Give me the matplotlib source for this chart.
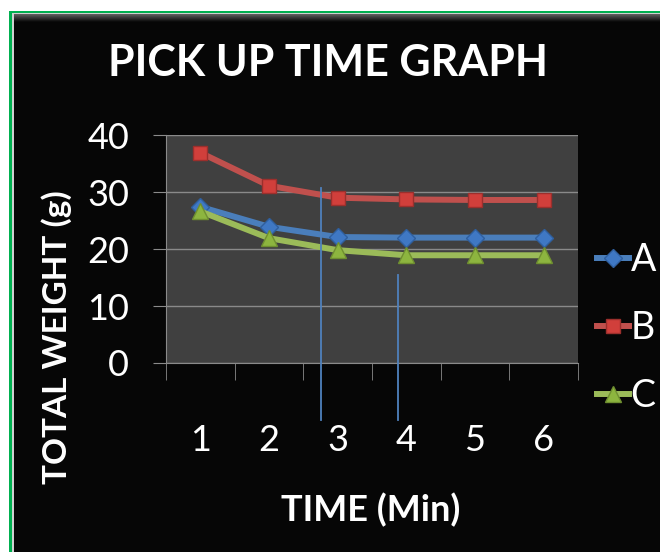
import numpy as np
import matplotlib
matplotlib.use('Agg')
import matplotlib.pyplot as plt
from matplotlib.patches import Rectangle
from matplotlib.lines import Line2D

# data
minutes = ['1', '2', '3', '4', '5', '6']
weight_a = [27.4, 23.9, 22.1, 22.0, 22.0, 22.0]
weight_b = [36.9, 31.1, 29.0, 28.7, 28.6, 28.6]
weight_c = [26.6, 21.9, 19.8, 18.9, 18.9, 18.9]
y_ticks = [0, 10, 20, 30, 40]

W, H = 660, 552
plt.rcParams['font.family'] = ['Lato', 'DejaVu Sans']

fig = plt.figure(figsize=(W / 100, H / 100), dpi=100, facecolor='white')

# green frame + black chart area
fig.patches.append(Rectangle((9 / W, -0.1), 1.2, 1.1 - 11 / H, transform=fig.transFigure,
                             facecolor='#00b050', edgecolor='none', zorder=-5))
fig.patches.append(Rectangle((12 / W, -0.1), 1.2, 1.1 - 13 / H, transform=fig.transFigure,
                             facecolor='#d0d0d0', edgecolor='none', zorder=-4))
fig.patches.append(Rectangle((14 / W, -0.1), 1.2, 1.1 - 14 / H, transform=fig.transFigure,
                             facecolor='#060606', edgecolor='none', zorder=-3))
# soft grey band at the top edge
band = fig.add_axes([14 / W, 1 - 22 / H, 1, 8 / H])
band.imshow(np.linspace(0.38, 0.03, 20).reshape(-1, 1), cmap='gray', vmin=0, vmax=1,
            aspect='auto', extent=[0, 1, 0, 1])
band.axis('off')

ax = fig.add_axes([166 / W, 1 - 363 / H, 412 / W, 228 / H])
ax.set_facecolor('#404040')

x = np.arange(len(minutes))
ax.plot(x, weight_a, color='#4a7ebb', lw=4.3, marker='D', ms=9.5,
        mfc='#3f78c4', mec='#2f5f9e', label='A', zorder=3)
ax.plot(x, weight_b, color='#c0504d', lw=4.3, marker='s', ms=10.5,
        mfc='#d13f3b', mec='#9c2f2c', label='B', zorder=3)
ax.plot(x, weight_c, color='#9bbb59', lw=4.3, marker='^', ms=12,
        mfc='#8db53f', mec='#6f8f30', label='C', zorder=4)

ax.set_xlim(-0.5, len(minutes) - 0.5)
ax.set_ylim(0, 40)
ax.set_yticks(y_ticks)
ax.set_xticks(x)
ax.set_xticklabels(minutes)
ax.set_xticks(np.arange(-0.5, len(minutes), 1), minor=True)
ax.grid(axis='y', color='#8a8a8a', lw=1)
ax.set_axisbelow(True)

for s in ['top', 'right']:
    ax.spines[s].set_visible(False)
for s in ['left', 'bottom']:
    ax.spines[s].set_color('#8a8a8a')

ax.tick_params(axis='x', which='major', length=0, pad=44, labelsize=26, labelcolor='white')
ax.tick_params(axis='x', which='minor', length=12, color='#8a8a8a')
ax.tick_params(axis='y', length=9.5, color='#8a8a8a', pad=17, labelsize=26, labelcolor='white')

ax.set_xlabel('TIME (Min)', color='white', fontsize=26, fontweight='bold', va='center')
ax.xaxis.set_label_coords((371 - 166) / 412, (363 - 510) / 228)
ax.set_ylabel('TOTAL WEIGHT (g)', color='white', fontsize=24, fontweight='bold', va='center')
ax.yaxis.set_label_coords((57 - 166) / 412, (363 - 337) / 228)

fig.text(328 / W, 1 - 63 / H, 'PICK UP TIME GRAPH', ha='center', va='center',
         color='white', fontsize=31, fontweight='bold')

leg = ax.legend(loc='center left', bbox_to_anchor=(597 / W, 1 - 328 / H),
                bbox_transform=fig.transFigure, frameon=False, fontsize=27,
                labelcolor='white', handlelength=0.85, handletextpad=0.05,
                labelspacing=0.85, borderpad=0, borderaxespad=0)

# two thin blue marker lines drawn on the figure
fig.add_artist(Line2D([321 / W, 321 / W], [1 - 188 / H, 1 - 420 / H], color='#4f81bd', lw=1.3))
fig.add_artist(Line2D([398 / W, 398 / W], [1 - 275 / H, 1 - 420 / H], color='#4f81bd', lw=1.3))

fig.savefig('out.png', dpi=100, facecolor=fig.get_facecolor())
